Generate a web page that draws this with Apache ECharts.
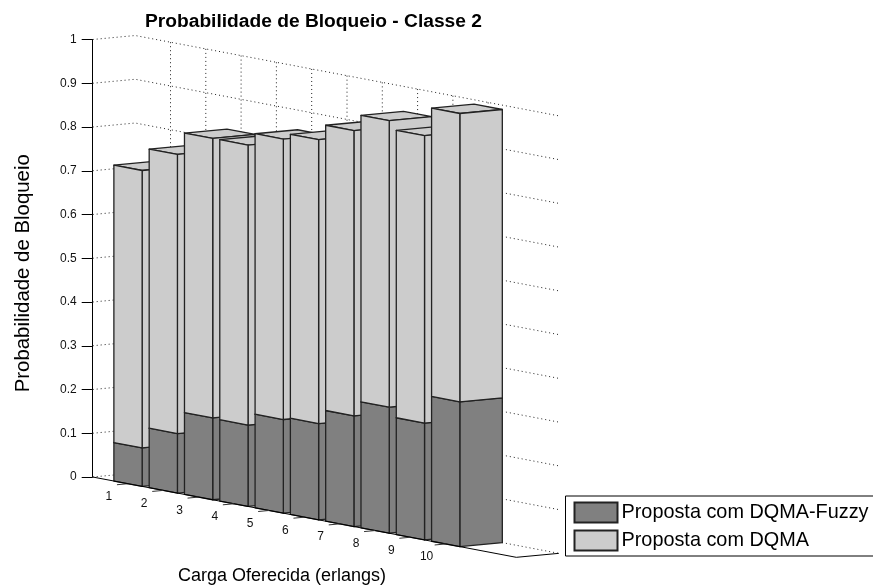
<!DOCTYPE html>
<html>
<head>
<meta charset="utf-8">
<style>
  html, body { margin: 0; padding: 0; background: #fff; }
  #chart { width: 873px; height: 586px; }
</style>
</head>
<body>
<div id="chart"></div>
<script src="https://cdn.jsdelivr.net/npm/echarts@6/dist/echarts.min.js"></script>
<script>
var categories = ["1", "2", "3", "4", "5", "6", "7", "8", "9", "10"];
var fuzzyValues = [0.088, 0.136, 0.187, 0.186, 0.214, 0.22, 0.253, 0.288, 0.267, 0.331];
var dqmaValues = [0.634, 0.638, 0.639, 0.64, 0.641, 0.649, 0.652, 0.655, 0.657, 0.659];
var yTicks = [0, 0.1, 0.2, 0.3, 0.4, 0.5, 0.6, 0.7, 0.8, 0.9, 1];

var seriesNames = ["Proposta com DQMA-Fuzzy", "Proposta com DQMA"];
var fontName = '"Liberation Sans", Arial, sans-serif';

// oblique view: x axis falls to the right, depth axis goes back and up
var xMax = 12;
var barHalf = 0.4;
var depthX = 1.204;
var depthV = 0.0091;
var shearV = 0.0153;

function project(api, x, d, v) {
  return api.coord([x + d * depthX, v - x * shearV + d * depthV]);
}

function poly(points, fill, z2) {
  return {
    type: "polygon",
    z2: z2,
    shape: { points: points },
    style: { fill: fill, stroke: "#222", lineWidth: 1.3, lineJoin: "round" },
  };
}

function renderBar(color, zOffset) {
  return function (params, api) {
    var x = api.value(0);
    var lo = api.value(1);
    var hi = api.value(2);
    var l = x - barHalf;
    var r = x + barHalf;
    var z2 = x * 10 + zOffset;
    return {
      type: "group",
      children: [
        poly([project(api, l, 0, hi), project(api, r, 0, hi), project(api, r, 1, hi), project(api, l, 1, hi)], color, z2),
        poly([project(api, r, 0, lo), project(api, r, 1, lo), project(api, r, 1, hi), project(api, r, 0, hi)], color, z2),
        poly([project(api, l, 0, lo), project(api, r, 0, lo), project(api, r, 0, hi), project(api, l, 0, hi)], color, z2),
      ],
    };
  };
}

function dotted(points) {
  return {
    type: "polyline",
    z2: 0,
    shape: { points: points },
    style: { fill: null, stroke: "#222", lineWidth: 1, lineDash: [1, 3] },
  };
}

var chart = echarts.init(document.getElementById("chart"), null, { renderer: "canvas" });

var option = {
  animation: false,
  backgroundColor: "#fff",
  title: [
    {
      text: "Probabilidade de Bloqueio - Classe 2",
      left: 140,
      top: 7,
      textStyle: { fontFamily: fontName, fontSize: 19.2, fontWeight: "bold", color: "#000" },
    },
    {
      text: "Carga Oferecida (erlangs)",
      left: 173,
      top: 562,
      textStyle: { fontFamily: fontName, fontSize: 18, fontWeight: "normal", color: "#000" },
    },
  ],
  grid: { left: 92.7, top: 39.5, width: 423.6, height: 437.5 },
  legend: {
    data: seriesNames,
    orient: "vertical",
    left: 565.5,
    top: 496,
    padding: [5.5, 20, 4.5, 8],
    itemWidth: 43,
    itemHeight: 20,
    itemGap: 6,
    icon: "rect",
    selectedMode: false,
    backgroundColor: "#fff",
    borderColor: "#000",
    borderWidth: 1,
    textStyle: { fontFamily: fontName, fontSize: 19.85, color: "#000", padding: [0, 0, 0, -1] },
  },
  xAxis: { type: "value", min: 0, max: xMax, show: false },
  yAxis: {
    type: "value",
    min: 0,
    max: 1,
    interval: 0.1,
    name: "Probabilidade de Bloqueio",
    nameLocation: "middle",
    nameGap: 59,
    nameTextStyle: { fontFamily: fontName, fontSize: 20.4, color: "#000", padding: [0, 30, 0, 0] },
    axisLine: { show: true, lineStyle: { color: "#000" } },
    axisTick: { show: true, inside: false, length: 11, lineStyle: { color: "#000" } },
    axisLabel: { fontFamily: fontName, fontSize: 12, color: "#111", margin: 16, formatter: function (v) { return String(Math.round(v * 10) / 10); } },
    splitLine: { show: false },
  },
  series: [
    {
      // dotted lines on the left and back walls
      type: "custom",
      name: "walls",
      silent: true,
      data: yTicks.map(function (v) { return [0, v]; }),
      renderItem: function (params, api) {
        var v = api.value(1);
        return dotted([project(api, 0, 0, v), project(api, 0, 1, v), project(api, xMax, 1, v)]);
      },
    },
    {
      // dotted verticals on the back wall and across the floor
      type: "custom",
      name: "verticals",
      silent: true,
      data: categories.map(function (c) { return [Number(c), 0]; }),
      renderItem: function (params, api) {
        var x = api.value(0);
        return dotted([project(api, x, 1, 1), project(api, x, 1, 0), project(api, x, 0, 0)]);
      },
    },
    {
      // oblique x axis with its ticks and labels
      type: "custom",
      name: "xaxis",
      silent: true,
      data: categories.map(function (c) { return [Number(c), 0]; }),
      renderItem: function (params, api) {
        var x = api.value(0);
        var a = project(api, x, 0, 0);
        var b = project(api, x, -0.26, 0);
        var t = project(api, x, -0.45, -0.026);
        var children = [
          { type: "line", z2: 300, shape: { x1: a[0], y1: a[1], x2: b[0], y2: b[1] }, style: { stroke: "#333", lineWidth: 1 } },
          { type: "text", z2: 300, style: { x: t[0], y: t[1], text: categories[params.dataIndex], textAlign: "center", textVerticalAlign: "middle", fontFamily: fontName, fontSize: 12, fill: "#111" } },
        ];
        if (params.dataIndex === 0) {
          children.push({
            type: "polyline",
            z2: 300,
            shape: { points: [project(api, 0, 0, 0), project(api, xMax, 0, 0), project(api, xMax, 1, 0)] },
            style: { fill: null, stroke: "#000", lineWidth: 1 },
          });
        }
        return { type: "group", children: children };
      },
    },
    {
      type: "custom",
      name: seriesNames[0],
      itemStyle: { color: "#808080", borderColor: "#222", borderWidth: 1 },
      data: categories.map(function (c, i) { return [Number(c), 0, fuzzyValues[i]]; }),
      renderItem: renderBar("#808080", 1),
    },
    {
      type: "custom",
      name: seriesNames[1],
      itemStyle: { color: "#cccccc", borderColor: "#222", borderWidth: 1 },
      data: categories.map(function (c, i) { return [Number(c), fuzzyValues[i], fuzzyValues[i] + dqmaValues[i]]; }),
      renderItem: renderBar("#cccccc", 2),
    },
  ],
};

chart.setOption(option);
</script>
</body>
</html>
